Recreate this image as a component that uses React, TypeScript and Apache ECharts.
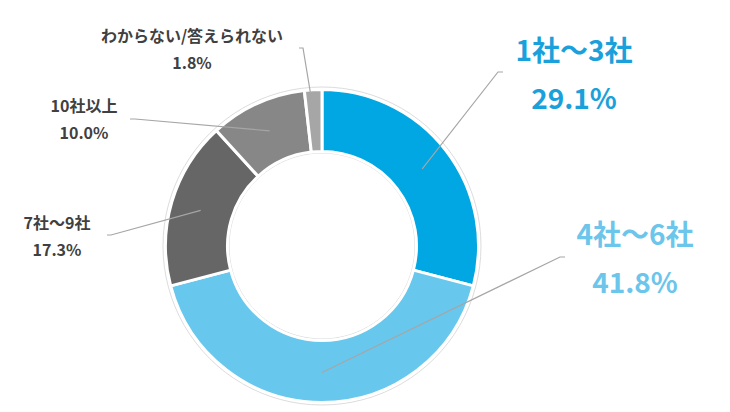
import React, { useEffect, useRef } from "react";
import * as echarts from "echarts";

const categories = ["1社～3社", "4社～6社", "7社～9社", "10社以上", "わからない/答えられない"];
const shares = [29.1, 41.8, 17.3, 10.0, 1.8];
const sliceColors = ["#00A7E2", "#68C7ED", "#666666", "#878787", "#A6A6A6"];
const labelColors = ["#1AA1DB", "#6CC5EB", "#404040", "#404040", "#404040"];
const bigLabel = [true, true, false, false, false];

// label layout (positions of label centres, bend and end of label lines)
const labelCenters = [
  [574, 73],
  [635, 257],
  [57, 235.5],
  [84, 118.5],
  [192, 48],
];
const lineBends = [
  [[498, 72], [503, 72]],
  [[560, 257], [565, 257]],
  [[111, 235], [107, 235]],
  [[135, 119], [130, 119]],
  [[303, 48], [299, 48]],
];

const CX = 322;
const CY = 246;
const R_OUT = 155;
const R_IN = 96;
const BORDER = 3;

function midPoint(i: number): number[] {
  const total = shares.reduce((a, b) => a + b, 0);
  let before = 0;
  for (let k = 0; k < i; k++) before += shares[k];
  const frac = (before + shares[i] / 2) / total;
  const ang = frac * Math.PI * 2;
  const rho = (R_OUT + R_IN) / 2 + 1;
  return [CX + rho * Math.sin(ang), CY - rho * Math.cos(ang)];
}

export default function App() {
  const ref = useRef<HTMLDivElement>(null);
  useEffect(() => {
    if (!ref.current) return;
    const chart = echarts.init(ref.current, undefined, { renderer: "svg" });
    const font = "'Noto Sans CJK JP', 'Noto Sans', sans-serif";
    const sliceData = categories.map((name, i) => ({
      name,
      value: shares[i],
      itemStyle: { color: sliceColors[i] },
    }));
    const labelData = categories.map((name, i) => ({
      name,
      value: shares[i],
      label: {
        formatter: (p: any) =>
          (bigLabel[i] ? "{bn|" : "{sn|") + p.name + "}\n" + (bigLabel[i] ? "{bv|" : "{sv|") + Number(p.value).toFixed(1) + "%}",
        rich: {
          bn: { fontSize: 28, fontWeight: "bold", color: labelColors[i], lineHeight: 48, fontFamily: font },
          bv: { fontSize: 28, fontWeight: "bold", color: labelColors[i], lineHeight: 48, fontFamily: font },
          sn: { fontSize: 16, fontWeight: "bold", color: labelColors[i], lineHeight: 27, fontFamily: font },
          sv: { fontSize: 16, fontWeight: "bold", color: labelColors[i], lineHeight: 27, fontFamily: font },
        },
      },
    }));
    chart.setOption({
      animation: false,
      backgroundColor: "#ffffff",
      series: [
        {
          type: "pie",
          silent: true,
          z: 1,
          center: [CX, CY],
          radius: [R_IN - 3, R_OUT + 4],
          label: { show: false },
          labelLine: { show: false },
          itemStyle: { color: "#ffffff", borderColor: "#dcdcdc", borderWidth: 1 },
          data: [{ value: 1, name: "bg" }],
        },
        {
          type: "pie",
          z: 2,
          center: [CX, CY],
          radius: [R_IN - BORDER / 2, R_OUT + BORDER / 2],
          startAngle: 90,
          clockwise: true,
          itemStyle: { borderColor: "#ffffff", borderWidth: BORDER },
          label: { show: false },
          labelLine: { show: false },
          data: sliceData,
        },
        {
          type: "pie",
          z: 3,
          silent: true,
          center: [CX, CY],
          radius: [R_IN - BORDER / 2, R_OUT + BORDER / 2],
          startAngle: 90,
          clockwise: true,
          avoidLabelOverlap: false,
          itemStyle: { color: "rgba(0,0,0,0)", borderWidth: 0 },
          label: { show: true, position: "outside", fontFamily: font },
          labelLine: { show: true, lineStyle: { color: "#A6A6A6", width: 1.2 } },
          labelLayout: (params: any) => {
            const i = params.dataIndex;
            return {
              x: labelCenters[i][0],
              y: labelCenters[i][1],
              align: "center",
              verticalAlign: "middle",
              labelLinePoints: [midPoint(i), lineBends[i][0], lineBends[i][1]],
            };
          },
          data: labelData,
        },
      ],
    });
    return () => chart.dispose();
  }, []);
  return <div ref={ref} style={{ position: "absolute", left: 0, top: 0, width: 730, height: 412 }} />;
}
